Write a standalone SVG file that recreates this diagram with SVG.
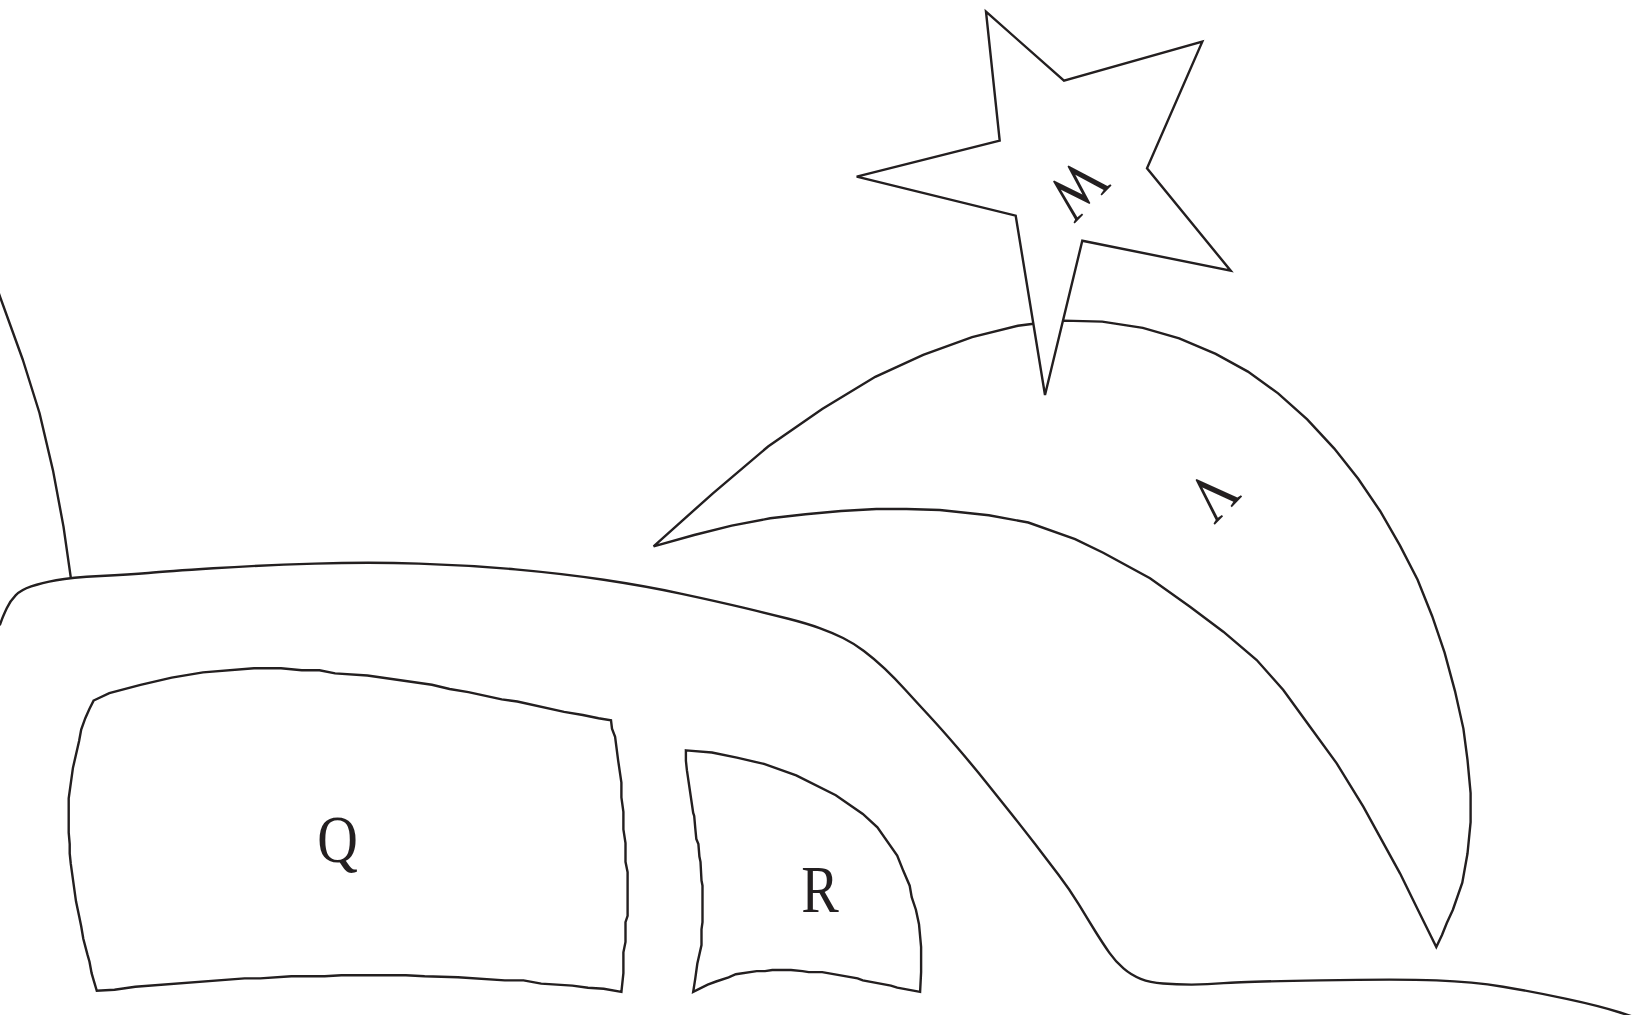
<svg xmlns="http://www.w3.org/2000/svg" width="1632" height="1015" viewBox="0 0 1632 1015">
<style>
.ln{fill:none;stroke:#231f20;stroke-width:2.4;stroke-linejoin:round;stroke-linecap:round}
.sh{fill:#ffffff;stroke:#231f20;stroke-width:2.4;stroke-linejoin:miter}
.lbl{font-family:"Liberation Serif","Times New Roman",serif;font-size:67px;fill:#231f20;text-anchor:middle}
</style>
<rect x="0" y="0" width="1632" height="1015" fill="#ffffff"/>
<g id="ground">
<path class="ln" d="M0,624.5 L1.55,620.35 Q3.1,616.2 6.75,608.35 Q10.4,600.5 15.6,595.3 Q20.8,590.1 31.2,586.45 Q41.6,582.8 56.2,580.2 Q70.8,577.6 100.45,576.05 Q130.1,574.5 148.3,572.95 Q166.5,571.4 213.35,568.3 Q260.2,565.2 314.85,563.6 Q369.5,562 418.95,563.6 Q468.4,565.2 515.2,569.35 Q562,573.5 603.65,579.75 Q645.3,586 681.75,593.8 Q718.2,601.6 744.2,607.85 Q770.2,614.1 788.4,618.75 Q806.6,623.4 819.6,628.1 Q832.6,632.8 843.05,638 Q853.5,643.2 863.9,651 Q874.3,658.8 884.7,668.7 Q895.1,678.6 905.5,690.05 Q915.9,701.5 928.9,715.55 Q941.9,729.6 957.5,747.8 Q973.1,766 986.1,782.15 Q999.1,798.3 1011.1,813.4 Q1023.1,828.5 1035.05,844.1 Q1047,859.7 1058.5,874.8 Q1070,889.9 1078.8,904.45 Q1087.6,919 1095.4,931.5 Q1103.2,944 1109.45,952.85 Q1115.7,961.7 1123.5,968.45 Q1131.3,975.2 1140.65,978.85 Q1150,982.5 1163,983.55 Q1176,984.6 1191.65,984.6 Q1207.3,984.6 1223.65,983.15 Q1240,981.7 1320,980.35 Q1400,979 1436.5,980.35 Q1473,981.7 1503,986.7 Q1533,991.7 1566.5,998.85 Q1600,1006 1620,1012.5 L1640,1019"/>
</g>
<g id="connectors">
<polyline class="ln" points="-2,291 0,296.6 22.9,360 39.5,413 53,470.4 63.5,526.6 70.8,577.6"/>
</g>
<g id="crescent">
<polygon class="sh" points="653.6,546.4 712.9,493.3 768.1,446.5 822.2,409 875.3,376.8 923.2,354.9 972.1,337.2 1017.9,325.8 1033.5,323.7 1063.7,320.6 1102.2,321.6 1142.8,327.9 1179.2,338.3 1215.7,353.9 1247.9,371.6 1278.1,393.4 1307.2,419.4 1334.3,448.6 1358.2,478.8 1380.1,511 1399.9,545.4 1417.6,579.7 1432.2,616.2 1444.6,652.6 1455,691.1 1463.4,728.6 1467.5,759.8 1470.6,793.1 1470.6,822.2 1467.5,853.5 1462.3,882.6 1452.9,909.7 1446.7,923.2 1442,935 1436.3,947.1 1418,910 1400,873.3 1363.3,806.7 1336.7,763.3 1310,726.7 1283.3,690 1256.7,660 1223.3,631.7 1190,606.7 1150,578.3 1103.2,552.7 1075.1,539.1 1028.3,522.5 988.8,515.2 939.8,510 906.5,509 876.3,509 841,511 805.6,514.2 770.2,518.3 731.7,525.6 694.2,535"/>
<text class="lbl" transform="translate(1197,480) rotate(134) scale(0.84,1)">V</text>
</g>
<g id="star">
<polygon class="sh" points="986,11.7 1064,80.7 1202.3,41.7 1147,168.3 1230.7,270.7 1082.3,240.7 1045,395 1015.7,215.7 856.7,176.7 999.7,140.7"/>
<text class="lbl" transform="translate(1061.5,174) rotate(134) scale(0.84,1)">W</text>
</g>
<g id="Q">
<polygon class="sh" points="93.7,700.5 109.3,693.2 140.5,684.8 171.7,677.6 203,672.4 254,668.2 281,668.2 301.8,670.3 319.5,670.3 335.1,673.4 367.4,675.5 431.9,684.8 449.6,689 468.4,692.1 501.7,699.4 517.3,701.5 564.1,711.9 582.8,715 598.5,718.2 611,720.2 612,728.6 615.1,736.9 618.2,760.8 621.4,782.7 621.4,797.3 623.4,811.8 623.4,829.5 625.5,843 625.5,861.8 627.6,872.2 627.6,915.9 625.5,922.1 625.5,941.9 623.4,952.3 623.4,973.1 621.4,991.9 603.7,988.8 588,987.7 572.4,985.6 541.2,983.6 523.5,980.4 504.8,980.4 458,977.3 424.6,976.3 405.9,975.2 341.4,975.2 324.7,976.3 291.4,976.3 260.2,978.4 244.6,978.4 135.3,986.7 114.5,989.8 96.8,990.8 93.7,980.4 91.6,973.1 89.5,961.7 87.4,954.4 83.3,938.8 81.2,926.3 79.1,915.9 76,901.3 70.8,863.9 69.7,853.5 69.7,844.1 68.7,832.6 68.7,798.3 72.9,768.1 79.1,741 81.2,729.6 85.3,718.2 89.5,708.8"/>
<text class="lbl" transform="translate(337.5,862) scale(0.84,1)">Q</text>
</g>
<g id="R">
<polygon class="sh" points="685.9,750.4 711.9,752.5 736.9,757.7 764,763.9 796.2,775.4 835.8,795.2 862.8,813.9 877.4,827.4 897.2,855.5 903.4,871.1 909.7,885.7 911.7,897.2 915.9,909.7 919,924.2 921.1,947.1 921.1,972.1 920.1,991.9 897.2,987.7 890.9,985.6 862.8,980.4 857.6,978.4 822.2,972.1 808.7,972.1 802.5,971.1 791,970 772.3,970 765,971.1 756.7,971.1 735.8,974.2 728.6,977.3 716.1,981.5 707.7,984.6 693.2,991.9 695.3,978.4 697.3,963.8 701.5,945 701.5,929.4 702.5,922.1 702.5,885.7 701.5,880.5 700.5,861.8 699.4,856.6 698.4,844.1 696.3,838.9 695.3,828.5 694.2,816 693.2,812.9 686.9,770.2 685.9,760.8"/>
<text class="lbl" transform="translate(820,911.5) scale(0.84,1)">R</text>
</g>
</svg>
